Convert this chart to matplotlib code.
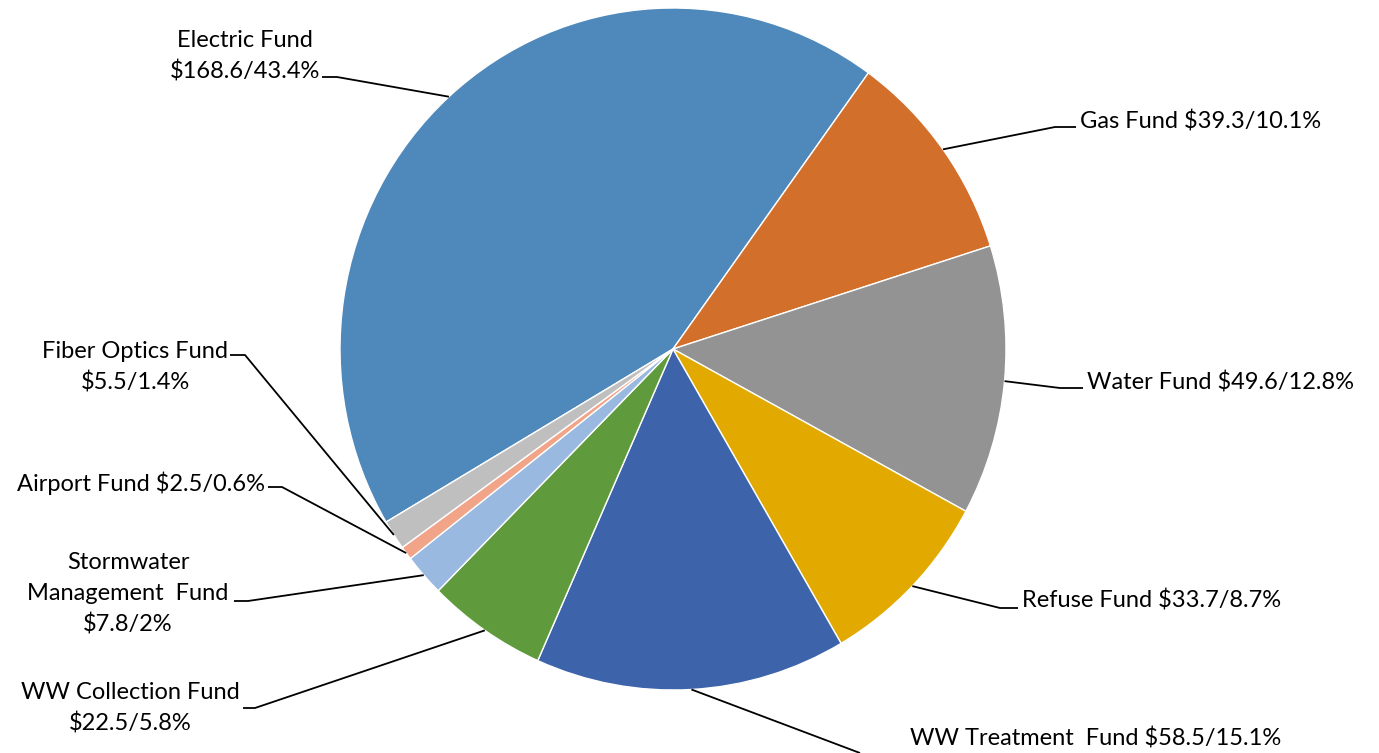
import numpy as np
import matplotlib.pyplot as plt

# fund revenues ($ millions)
funds = ["Electric Fund", "Gas Fund", "Water Fund", "Refuse Fund", "WW Treatment Fund",
         "WW Collection Fund", "Stormwater Management Fund", "Airport Fund", "Fiber Optics Fund"]
amounts = [168.6, 39.3, 49.6, 33.7, 58.5, 22.5, 7.8, 2.5, 5.5]
label_text = [
    "Electric Fund\n$168.6/43.4%",
    "Gas Fund $39.3/10.1%",
    "Water Fund $49.6/12.8%",
    "Refuse Fund $33.7/8.7%",
    "WW Treatment  Fund $58.5/15.1%",
    "WW Collection Fund\n$22.5/5.8%",
    "Stormwater\nManagement  Fund\n$7.8/2%",
    "Airport Fund $2.5/0.6%",
    "Fiber Optics Fund\n$5.5/1.4%",
]
colors = ["#4f88bb", "#d26f2a", "#939393", "#e2a900", "#3d64aa",
          "#5f9b3c", "#9ab9e0", "#f1a487", "#bfbfbf"]

W, H = 1379, 753
CX, CY, RX, RY = 673, 349, 333, 341

def px(x, y):
    return (x - CX) / RX, (CY - y) / RY

fig = plt.figure(figsize=(W / 100, H / 100), dpi=100)
ax = fig.add_axes([0, 0, 1, 1])
wedges, _ = ax.pie(amounts, colors=colors, startangle=210.5, counterclock=False,
                   radius=1, center=(0, 0),
                   wedgeprops=dict(edgecolor="white", linewidth=1))
ax.set_xlim(-CX / RX, (W - CX) / RX)
ax.set_ylim(-(H - CY) / RY, CY / RY)
ax.set_aspect("auto")
ax.axis("off")

# label layout in pixels: (text x, text y, ha, elbow x, elbow y, line end x)
layout = [
    (245, 56, "center", 337, 77, 322),
    (1080, 122, "left", 1055, 127, 1076),
    (1087, 383, "left", 1060, 388, 1083),
    (1022, 601, "left", 1000, 608, 1018),
    (910, 738, "left", 860, 753, 860),
    (130, 708, "center", 255, 708, 243),
    (128, 594, "center", 248, 601, 234),
    (265, 483, "right", 282, 487, 268),
    (135, 367, "center", 245, 355, 230),
]

for w, txt, (tx, ty, ha, ex, ey, lx) in zip(wedges, label_text, layout):
    ang = np.deg2rad((w.theta1 + w.theta2) / 2)
    sx, sy = np.cos(ang), np.sin(ang)
    e = px(ex, ey)
    l = px(lx, ey)
    ax.plot([sx, e[0], l[0]], [sy, e[1], l[1]], color="black", lw=1.3,
            solid_capstyle="butt", clip_on=False)
    x, y = px(tx, ty)
    ax.text(x, y, txt, ha=ha, va="center", multialignment="center",
            fontsize=17, family=["Lato", "DejaVu Sans"], linespacing=1.55)

fig.savefig("out.png", dpi=100, facecolor="white")
